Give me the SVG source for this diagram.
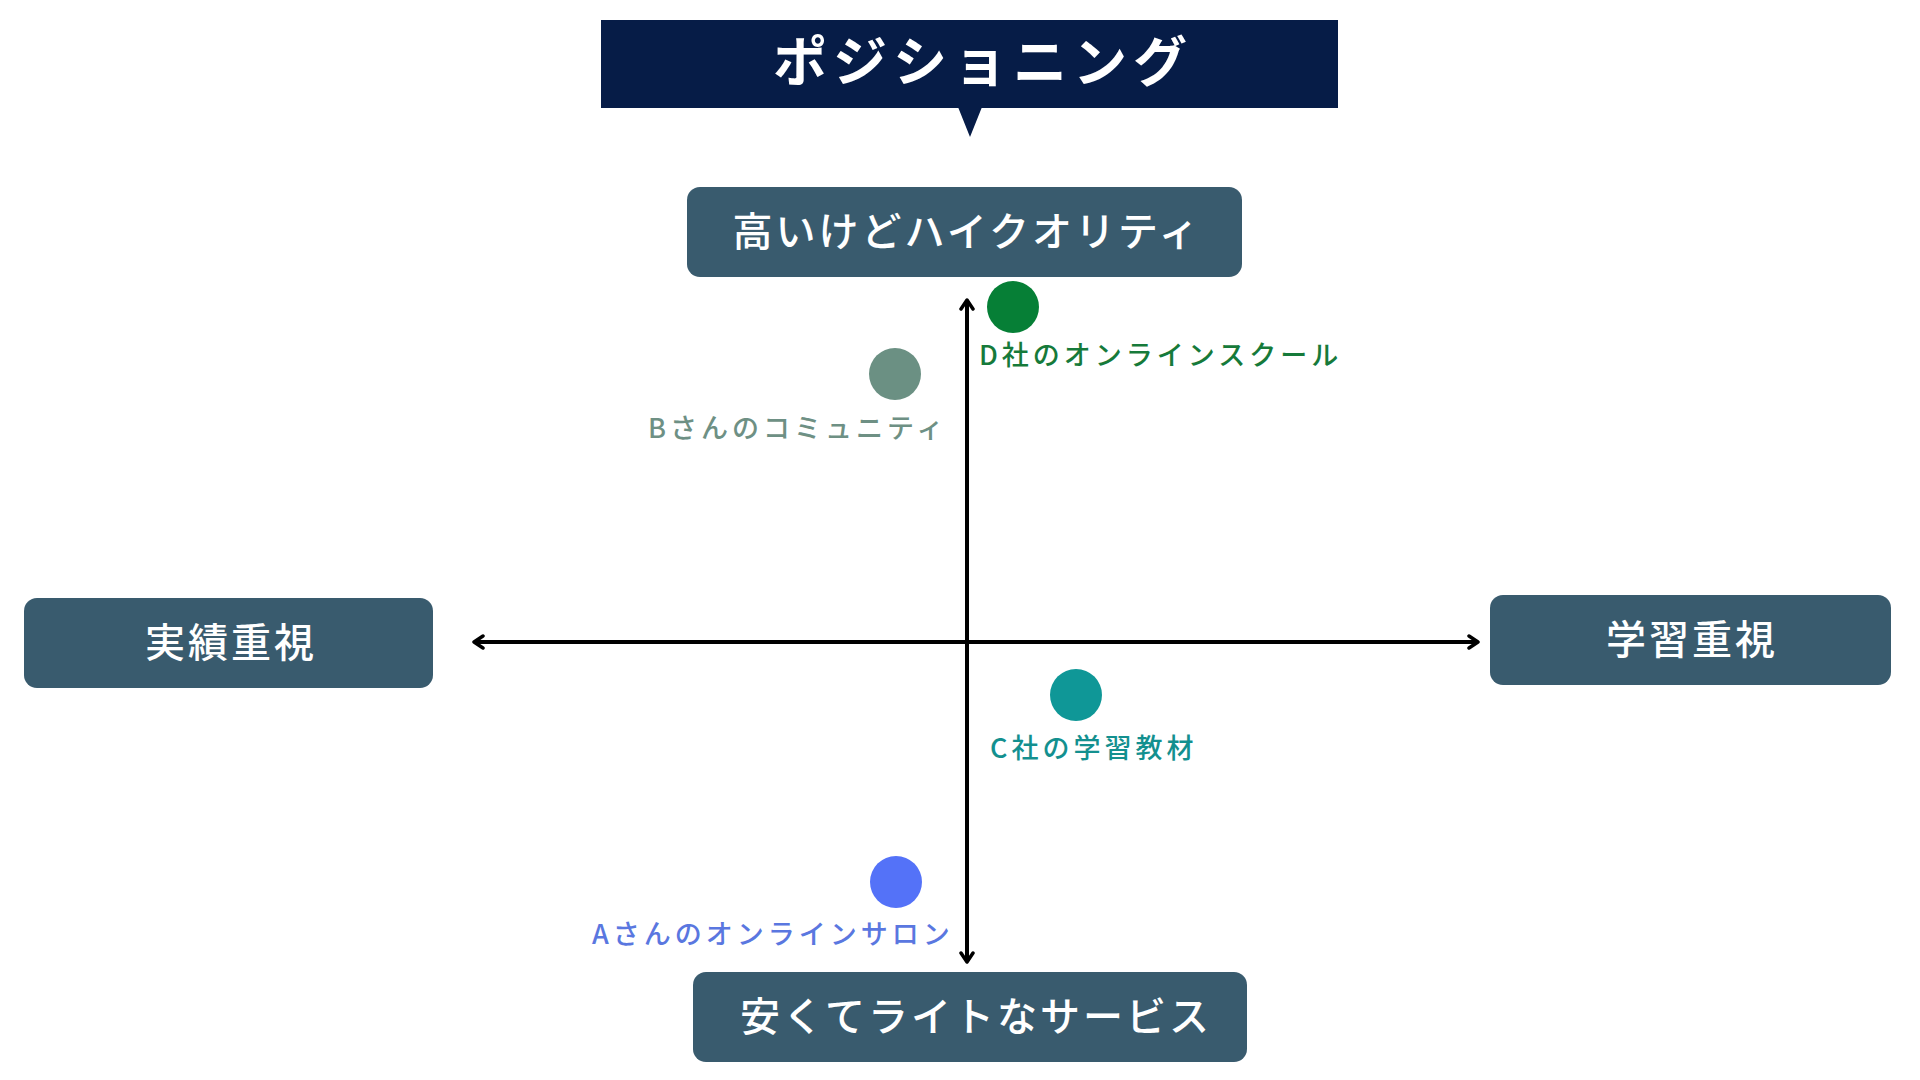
<svg xmlns="http://www.w3.org/2000/svg" width="1920" height="1080" viewBox="0 0 1920 1080">
<style>
.jp{font-family:"Noto Sans CJK JP","Noto Sans",sans-serif;}
.node rect{fill:#395b6e;}
.ntext{fill:#ffffff;font-size:40px;letter-spacing:3px;text-anchor:middle;font-weight:500;}
.lbl{font-size:27px;letter-spacing:4px;font-weight:500;}
.axis{stroke:#000;stroke-width:4;fill:none;}
</style>
<defs>
<marker id="arr" viewBox="0 0 16 16" refX="13" refY="8" markerWidth="16" markerHeight="16" markerUnits="userSpaceOnUse" orient="auto-start-reverse">
<path d="M4,2 L13,8 L4,14" fill="none" stroke="#000" stroke-width="3.5" stroke-linecap="round" stroke-linejoin="round"/>
</marker>
</defs>
<rect width="1920" height="1080" fill="#ffffff"/>
<g id="title">
<rect x="601" y="20" width="737" height="88" fill="#061c47"/>
<polygon points="958,107 982,107 970,137" fill="#061c47"/>
<text class="jp" x="983" y="82" fill="#ffffff" font-size="54" font-weight="700" letter-spacing="6" text-anchor="middle">ポジショニング</text>
</g>
<g id="connectors">
<line class="axis" x1="967" y1="300" x2="967" y2="962" marker-start="url(#arr)" marker-end="url(#arr)"/>
<line class="axis" x1="474" y1="642" x2="1478" y2="642" marker-start="url(#arr)" marker-end="url(#arr)"/>
</g>
<g id="node-top" class="node">
<rect x="687" y="187" width="555" height="90" rx="13"/>
<text class="jp ntext" x="967" y="246">高いけどハイクオリティ</text>
</g>
<g id="node-left" class="node">
<rect x="24" y="598" width="409" height="90" rx="13"/>
<text class="jp ntext" x="231" y="657">実績重視</text>
</g>
<g id="node-right" class="node">
<rect x="1490" y="595" width="401" height="90" rx="13"/>
<text class="jp ntext" x="1692" y="654">学習重視</text>
</g>
<g id="node-bottom" class="node">
<rect x="693" y="972" width="554" height="90" rx="13"/>
<text class="jp ntext" x="976" y="1031">安くてライトなサービス</text>
</g>
<g id="point-d">
<circle cx="1013" cy="307" r="26" fill="#067f36"/>
<text class="jp lbl" x="979" y="365" fill="#167a3a">D社のオンラインスクール</text>
</g>
<g id="point-b">
<circle cx="895" cy="374" r="26" fill="#6b9083"/>
<text class="jp lbl" x="648" y="438" fill="#6e9084">Bさんのコミュニティ</text>
</g>
<g id="point-c">
<circle cx="1076" cy="695" r="26" fill="#0f9797"/>
<text class="jp lbl" x="990" y="758" fill="#13908f">C社の学習教材</text>
</g>
<g id="point-a">
<circle cx="896" cy="882" r="26" fill="#5472f8"/>
<text class="jp lbl" x="592" y="944" fill="#5a77e0">Aさんのオンラインサロン</text>
</g>
</svg>
